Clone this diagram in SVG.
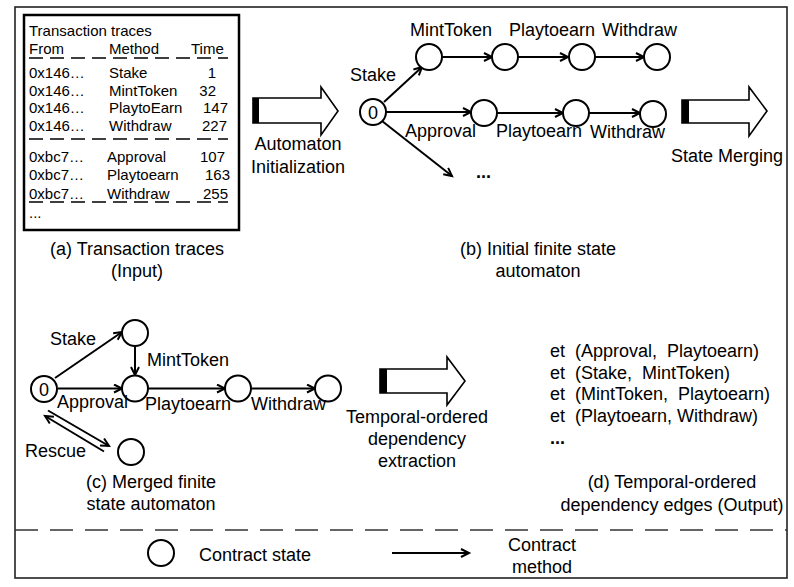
<svg xmlns="http://www.w3.org/2000/svg" width="794" height="587" viewBox="0 0 794 587">
<style>
text{font-family:"Liberation Sans",Arial,sans-serif;fill:#000;}
.t18{font-size:18px;}
.t15{font-size:15px;}
.c{text-anchor:middle;}
.e{text-anchor:end;}
.st{fill:#fff;stroke:#000;stroke-width:2;}
.edge{stroke:#000;stroke-width:2;fill:none;marker-end:url(#ah);}
.dash{stroke:#000;stroke-width:1.6;stroke-dasharray:14 7;fill:none;}
.big{fill:#fff;stroke:#000;stroke-width:1.6;stroke-linejoin:miter;}
</style>
<defs>
<marker id="ah" markerUnits="userSpaceOnUse" markerWidth="12" markerHeight="12" refX="9" refY="5" orient="auto">
<path d="M1,1 L9,5 L1,9" fill="none" stroke="#000" stroke-width="2"/>
</marker>
</defs>
<rect x="15" y="7" width="772" height="571" fill="#fff" stroke="#222" stroke-width="1.6"/>
<line x1="15" y1="530" x2="787" y2="530" stroke="#333" stroke-width="1.6" stroke-dasharray="23 12"/>

<g id="traces">
<rect x="24" y="15" width="215" height="215" fill="#fff" stroke="#000" stroke-width="2.5"/>
<text class="t15" x="29" y="36">Transaction traces</text>
<text class="t15" x="29" y="54">From</text>
<text class="t15" x="109" y="54">Method</text>
<text class="t15" x="191" y="54">Time</text>
<line class="dash" x1="29" y1="58" x2="228" y2="58"/>
<text class="t15" x="29" y="78">0x146…</text><text class="t15" x="109" y="78">Stake</text><text class="t15 e" x="216" y="78">1</text>
<text class="t15" x="29" y="95.5">0x146…</text><text class="t15" x="109" y="95.5">MintToken</text><text class="t15 e" x="216" y="95.5">32</text>
<text class="t15" x="29" y="113">0x146…</text><text class="t15" x="109" y="113">PlaytoEarn</text><text class="t15 e" x="228" y="113">147</text>
<text class="t15" x="29" y="130.5">0x146…</text><text class="t15" x="109" y="130.5">Withdraw</text><text class="t15 e" x="227" y="130.5">227</text>
<line class="dash" x1="29" y1="139" x2="228" y2="139"/>
<text class="t15" x="29" y="161.5">0xbc7…</text><text class="t15" x="107" y="161.5">Approval</text><text class="t15 e" x="225" y="161.5">107</text>
<text class="t15" x="29" y="180">0xbc7…</text><text class="t15" x="107" y="180">Playtoearn</text><text class="t15 e" x="230" y="180">163</text>
<text class="t15" x="29" y="199">0xbc7…</text><text class="t15" x="107" y="199">Withdraw</text><text class="t15 e" x="228" y="199">255</text>
<line class="dash" x1="29" y1="202" x2="228" y2="202"/>
<text class="t15" x="29" y="218">...</text>
</g>
<g id="caption-a">
<text class="t18 c" x="137" y="255">(a) Transaction traces</text>
<text class="t18 c" x="137" y="277">(Input)</text>
</g>

<g id="arrow-init">
<path class="big" d="M253,98 L321,98 L321,87 L338,111 L321,135 L321,123 L253,123 Z"/>
<rect x="253" y="98" width="6" height="25" fill="#000"/>
<text class="t18 c" x="298" y="150">Automaton</text>
<text class="t18 c" x="298" y="173">Initialization</text>
</g>

<g id="arrow-merge">
<path class="big" d="M682,100 L749,100 L749,87 L767,111 L749,136 L749,123 L682,123 Z"/>
<rect x="682" y="100" width="7" height="23" fill="#000"/>
<text class="t18 c" x="727" y="162">State Merging</text>
</g>

<g id="arrow-extract">
<path class="big" d="M380,369 L447,369 L447,357 L465,381 L447,405 L447,393 L380,393 Z"/>
<rect x="380" y="369" width="7" height="24" fill="#000"/>
<text class="t18 c" x="417" y="423">Temporal-ordered</text>
<text class="t18 c" x="417" y="445">dependency</text>
<text class="t18 c" x="417" y="467">extraction</text>
</g>

<g id="connectors">
<line class="edge" x1="384" y1="102" x2="422" y2="67"/>
<line class="edge" x1="442" y1="57" x2="492" y2="57"/>
<line class="edge" x1="518" y1="57" x2="568" y2="57"/>
<line class="edge" x1="595" y1="57" x2="644" y2="57"/>
<line class="edge" x1="386" y1="112" x2="471" y2="112"/>
<line class="edge" x1="497" y1="113" x2="563" y2="113"/>
<line class="edge" x1="589" y1="113" x2="640" y2="113"/>
<line class="edge" x1="382" y1="121" x2="452" y2="176"/>
<line class="edge" x1="55" y1="378" x2="122" y2="332"/>
<line class="edge" x1="135" y1="347" x2="135" y2="375"/>
<line class="edge" x1="58" y1="388.5" x2="122" y2="388.5"/>
<line class="edge" x1="149" y1="388.5" x2="225" y2="388.5"/>
<line class="edge" x1="252" y1="388.5" x2="315" y2="388.5"/>
<line class="edge" x1="48" y1="410.5" x2="109" y2="446"/>
<line class="edge" x1="104" y1="451.5" x2="45" y2="416"/>
<line class="edge" x1="392" y1="553" x2="469" y2="553"/>
</g>

<g id="fsa-b">
<g id="b-s0"><circle class="st" cx="373" cy="112" r="13"/><text class="t18 c" x="373" y="118.5">0</text></g>
<g id="b-s1"><circle class="st" cx="429" cy="57" r="13"/></g>
<g id="b-s2"><circle class="st" cx="505" cy="57" r="13"/></g>
<g id="b-s3"><circle class="st" cx="582" cy="57" r="13"/></g>
<g id="b-s4"><circle class="st" cx="657" cy="57" r="13"/></g>
<g id="b-s5"><circle class="st" cx="484" cy="113" r="13"/></g>
<g id="b-s6"><circle class="st" cx="576" cy="113" r="13"/></g>
<g id="b-s7"><circle class="st" cx="653" cy="114" r="13"/></g>
<text class="t18" x="350" y="81">Stake</text>
<text class="t18" x="410" y="36">MintToken</text>
<text class="t18" x="509" y="36">Playtoearn</text>
<text class="t18" x="602" y="36">Withdraw</text>
<text class="t18" x="405" y="137">Approval</text>
<text class="t18" x="496" y="137">Playtoearn</text>
<text class="t18" x="590" y="138">Withdraw</text>
<text class="t18" x="476" y="178" font-weight="bold">...</text>
<text class="t18 c" x="538" y="255">(b) Initial finite state</text>
<text class="t18 c" x="538" y="277">automaton</text>
</g>

<g id="fsa-c">
<g id="c-s0"><circle class="st" cx="44" cy="389" r="13"/><text class="t18 c" x="44" y="395.5">0</text></g>
<g id="c-s1"><circle class="st" cx="135" cy="333" r="13"/></g>
<g id="c-s2"><circle class="st" cx="135" cy="388.5" r="13"/></g>
<g id="c-s3"><circle class="st" cx="238" cy="388.5" r="13"/></g>
<g id="c-s4"><circle class="st" cx="328" cy="388.5" r="13"/></g>
<g id="c-s5"><circle class="st" cx="131" cy="452" r="13"/></g>
<text class="t18" x="50" y="345">Stake</text>
<text class="t18" x="147" y="366">MintToken</text>
<text class="t18" x="57" y="408">Approval</text>
<text class="t18" x="145" y="410">Playtoearn</text>
<text class="t18" x="251" y="410">Withdraw</text>
<text class="t18" x="25" y="457">Rescue</text>
<text class="t18 c" x="151" y="488">(c) Merged finite</text>
<text class="t18 c" x="151" y="510">state automaton</text>
</g>

<g id="edges-d">
<text class="t18" x="550" y="357" xml:space="preserve">et  (Approval,  Playtoearn)</text>
<text class="t18" x="550" y="378.5" xml:space="preserve">et  (Stake,  MintToken)</text>
<text class="t18" x="550" y="400" xml:space="preserve">et  (MintToken,  Playtoearn)</text>
<text class="t18" x="550" y="421.5" xml:space="preserve">et  (Playtoearn, Withdraw)</text>
<text class="t18" x="550" y="444" font-weight="bold">...</text>
<text class="t18 c" x="672" y="488">(d) Temporal-ordered</text>
<text class="t18 c" x="672" y="511">dependency edges (Output)</text>
</g>

<g id="legend">
<g id="legend-state"><circle class="st" cx="161" cy="553" r="13"/></g>
<text class="t18" x="199" y="561">Contract state</text>
<text class="t18 c" x="542" y="551">Contract</text>
<text class="t18 c" x="542" y="573">method</text>
</g>
</svg>
